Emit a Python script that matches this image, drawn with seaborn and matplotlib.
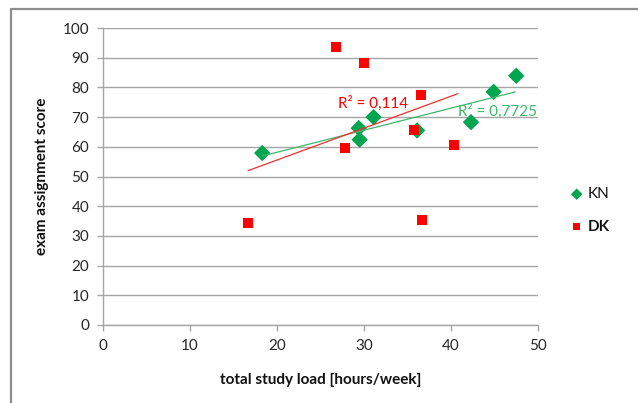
import matplotlib
matplotlib.use("Agg")
from matplotlib import pyplot as plt
from matplotlib.lines import Line2D
import pandas as pd
import seaborn as sns

# values
kn_hours = [18.3, 29.4, 29.5, 31.1, 36.1, 42.3, 44.9, 47.5]
kn_score = [57.9, 66.3, 62.4, 70.0, 65.5, 68.3, 78.5, 83.9]
dk_hours = [16.7, 26.8, 30.0, 27.8, 35.7, 36.5, 36.7, 40.4]
dk_score = [34.5, 93.5, 88.1, 59.5, 65.5, 77.4, 35.4, 60.6]

# Excel trendline end points as they appear in the picture
kn_trend_hours = [18.3, 47.4]
kn_trend_score = [56.9, 78.5]
dk_trend_hours = [16.7, 40.8]
dk_trend_score = [52.0, 77.9]
kn_r2_label = "R² = 0,7725"
dk_r2_label = "R² = 0,114"

GREEN = "#00A550"
GREEN_LINE = "#3DB86A"
RED = "#FF0000"
RED_LINE = "#F03030"
GRID = "#A6A6A6"

kn = pd.DataFrame({"hours": kn_hours, "score": kn_score})
dk = pd.DataFrame({"hours": dk_hours, "score": dk_score})

sns.set_theme(style="white")
plt.rcParams["font.family"] = ["Lato", "DejaVu Sans"]

fig = plt.figure(figsize=(6.38, 4.03), dpi=100)
ax = fig.add_axes([103 / 638, 1 - 325 / 403, 435 / 638, 297 / 403])

sns.scatterplot(data=kn, x="hours", y="score", marker="D", s=70, color=GREEN,
                edgecolor="none", ax=ax, label="KN", zorder=3)
sns.scatterplot(data=dk, x="hours", y="score", marker="s", s=52, color=RED,
                edgecolor="none", ax=ax, label="DK", zorder=4)

sns.lineplot(x=kn_trend_hours, y=kn_trend_score, color=GREEN_LINE, lw=0.9,
             ax=ax, zorder=5, legend=False)
sns.lineplot(x=dk_trend_hours, y=dk_trend_score, color=RED_LINE, lw=0.9,
             ax=ax, zorder=5, legend=False)

ax.text(31.0, 74.7, dk_r2_label, color=RED, fontsize=11, ha="center", va="center", zorder=6)
ax.text(45.3, 72.0, kn_r2_label, color=GREEN_LINE, fontsize=11, ha="center", va="center", zorder=6)

ax.set_xlim(0, 50)
ax.set_ylim(0, 100)
ax.set_xticks(range(0, 51, 10))
ax.set_yticks(range(0, 101, 10))
ax.yaxis.grid(True, color=GRID, lw=1.0)
ax.xaxis.grid(False)
ax.set_axisbelow(True)

for side in ["top", "right"]:
    ax.spines[side].set_visible(False)
for side in ["left", "bottom"]:
    ax.spines[side].set_color(GRID)
    ax.spines[side].set_linewidth(1.0)

ax.tick_params(axis="both", which="major", direction="out", length=4, width=1,
               color=GRID, labelsize=11, labelcolor="#262626", pad=6,
               left=True, bottom=True)

ax.set_xlabel("total study load [hours/week]", fontsize=11, fontweight="bold", color="#111111")
ax.set_ylabel("exam assignment score", fontsize=11, fontweight="bold", color="#111111")
ax.xaxis.set_label_coords(0.5, -0.16)
ax.yaxis.set_label_coords(-0.125, 0.5)

handles, labels = ax.get_legend_handles_labels()
leg = ax.legend(handles[:2], labels[:2], loc="center left",
                bbox_to_anchor=(0.868, 0.478),
                bbox_transform=fig.transFigure, frameon=False, fontsize=11,
                labelspacing=1.2, handletextpad=0.1, markerscale=0.7,
                handlelength=1.2)
for t in leg.get_texts():
    t.set_color("#111111")
    if t.get_text() == "DK":
        t.set_fontweight("bold")

# chart-area frame, cropped on the right and bottom in the reference
fig.add_artist(Line2D([10.5 / 638, 10.5 / 638, 1.0], [0.0, 1 - 8.5 / 403, 1 - 8.5 / 403],
                      transform=fig.transFigure, color="#8C8C8C", lw=1.6))

fig.savefig("out.png", dpi=100)
